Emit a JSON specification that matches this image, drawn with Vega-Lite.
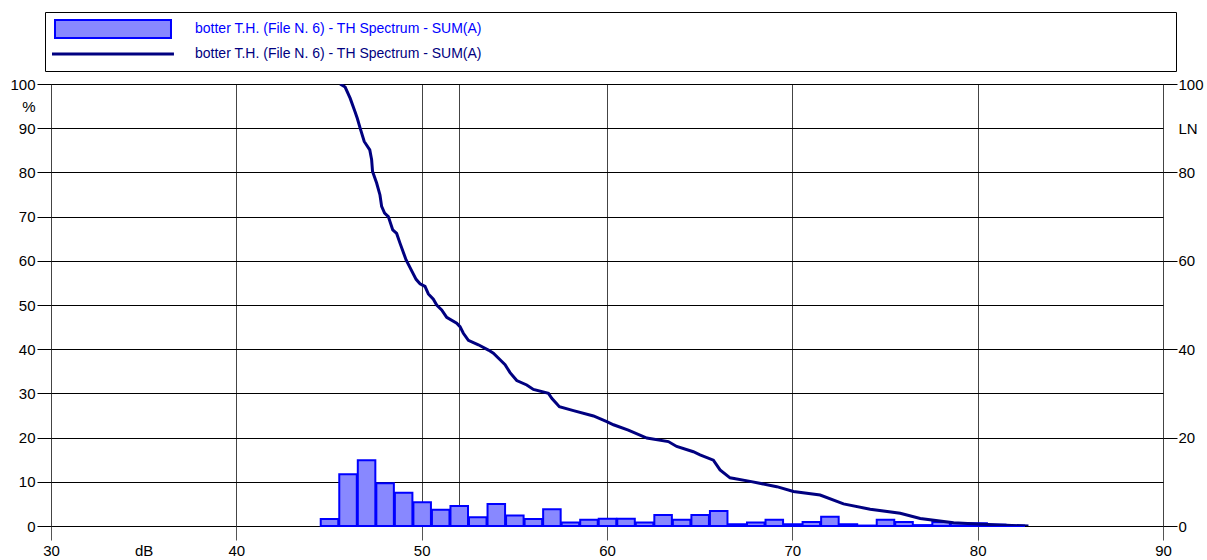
{
  "$schema": "https://vega.github.io/schema/vega-lite/v6.json",
  "width": 1112,
  "height": 442,
  "autosize": {"type": "none"},
  "padding": {"left": 51, "top": 84, "right": 44, "bottom": 34},
  "background": "white",
  "config": {
    "font": "Liberation Sans",
    "view": {"stroke": "black", "strokeWidth": 1},
    "axis": {"labelFont": "Liberation Sans", "labelFontSize": 15, "labelColor": "black", "domain": false, "tickColor": "black", "tickWidth": 1, "labelFlush": false, "labelOverlap": false, "title": null}
  },
  "datasets": {
    "bars": [
      {"bin_start": 44.5, "bin_end": 45.5, "percent": 1.6},
      {"bin_start": 45.5, "bin_end": 46.5, "percent": 11.7},
      {"bin_start": 46.5, "bin_end": 47.5, "percent": 14.9},
      {"bin_start": 47.5, "bin_end": 48.5, "percent": 9.7},
      {"bin_start": 48.5, "bin_end": 49.5, "percent": 7.5},
      {"bin_start": 49.5, "bin_end": 50.5, "percent": 5.4},
      {"bin_start": 50.5, "bin_end": 51.5, "percent": 3.7},
      {"bin_start": 51.5, "bin_end": 52.5, "percent": 4.5},
      {"bin_start": 52.5, "bin_end": 53.5, "percent": 2.0},
      {"bin_start": 53.5, "bin_end": 54.5, "percent": 5.0},
      {"bin_start": 54.5, "bin_end": 55.5, "percent": 2.4},
      {"bin_start": 55.5, "bin_end": 56.5, "percent": 1.6},
      {"bin_start": 56.5, "bin_end": 57.5, "percent": 3.8},
      {"bin_start": 57.5, "bin_end": 58.5, "percent": 0.8},
      {"bin_start": 58.5, "bin_end": 59.5, "percent": 1.4},
      {"bin_start": 59.5, "bin_end": 60.5, "percent": 1.65},
      {"bin_start": 60.5, "bin_end": 61.5, "percent": 1.65},
      {"bin_start": 61.5, "bin_end": 62.5, "percent": 0.8},
      {"bin_start": 62.5, "bin_end": 63.5, "percent": 2.5},
      {"bin_start": 63.5, "bin_end": 64.5, "percent": 1.4},
      {"bin_start": 64.5, "bin_end": 65.5, "percent": 2.5},
      {"bin_start": 65.5, "bin_end": 66.5, "percent": 3.4},
      {"bin_start": 66.5, "bin_end": 67.5, "percent": 0.4},
      {"bin_start": 67.5, "bin_end": 68.5, "percent": 0.8},
      {"bin_start": 68.5, "bin_end": 69.5, "percent": 1.4},
      {"bin_start": 69.5, "bin_end": 70.5, "percent": 0.4},
      {"bin_start": 70.5, "bin_end": 71.5, "percent": 0.9},
      {"bin_start": 71.5, "bin_end": 72.5, "percent": 2.1},
      {"bin_start": 72.5, "bin_end": 73.5, "percent": 0.4},
      {"bin_start": 73.5, "bin_end": 74.5, "percent": 0.1},
      {"bin_start": 74.5, "bin_end": 75.5, "percent": 1.4},
      {"bin_start": 75.5, "bin_end": 76.5, "percent": 0.9},
      {"bin_start": 76.5, "bin_end": 77.5, "percent": 0.2},
      {"bin_start": 77.5, "bin_end": 78.5, "percent": 0.9},
      {"bin_start": 78.5, "bin_end": 79.5, "percent": 0.6},
      {"bin_start": 79.5, "bin_end": 80.5, "percent": 0.6},
      {"bin_start": 80.5, "bin_end": 81.5, "percent": 0.3},
      {"bin_start": 81.5, "bin_end": 82.5, "percent": 0.1}
    ],
    "curve": [
      {"db": 45.6, "ln": 100},
      {"db": 45.87, "ln": 99.3},
      {"db": 46.14, "ln": 96.8},
      {"db": 46.4, "ln": 93.8},
      {"db": 46.53, "ln": 92.2},
      {"db": 46.68, "ln": 90.0},
      {"db": 46.9, "ln": 87.0},
      {"db": 47.2, "ln": 85.1},
      {"db": 47.3, "ln": 82.9},
      {"db": 47.35, "ln": 80.2},
      {"db": 47.57, "ln": 77.6},
      {"db": 47.75, "ln": 74.9},
      {"db": 47.84, "ln": 72.3},
      {"db": 48.0, "ln": 70.8},
      {"db": 48.2, "ln": 70.0},
      {"db": 48.44, "ln": 67.0},
      {"db": 48.65, "ln": 66.2},
      {"db": 48.83, "ln": 64.0},
      {"db": 49.16, "ln": 60.2},
      {"db": 49.7, "ln": 55.8},
      {"db": 49.91, "ln": 54.8},
      {"db": 50.18, "ln": 54.2},
      {"db": 50.36, "ln": 52.5},
      {"db": 50.63, "ln": 51.3},
      {"db": 50.81, "ln": 50.0},
      {"db": 51.08, "ln": 48.9},
      {"db": 51.35, "ln": 47.2},
      {"db": 51.89, "ln": 45.9},
      {"db": 52.07, "ln": 45.1},
      {"db": 52.25, "ln": 43.6},
      {"db": 52.52, "ln": 42.0},
      {"db": 53.06, "ln": 41.0},
      {"db": 53.6, "ln": 39.8},
      {"db": 53.87, "ln": 39.1},
      {"db": 54.23, "ln": 37.6},
      {"db": 54.5, "ln": 36.5},
      {"db": 54.77, "ln": 34.7},
      {"db": 55.13, "ln": 32.9},
      {"db": 55.67, "ln": 31.9},
      {"db": 56.03, "ln": 30.9},
      {"db": 56.84, "ln": 30.0},
      {"db": 57.02, "ln": 28.9},
      {"db": 57.43, "ln": 27.0},
      {"db": 58.19, "ln": 26.1},
      {"db": 59.27, "ln": 24.9},
      {"db": 59.99, "ln": 23.6},
      {"db": 60.35, "ln": 22.9},
      {"db": 61.15, "ln": 21.7},
      {"db": 62.15, "ln": 19.9},
      {"db": 63.31, "ln": 19.1},
      {"db": 63.76, "ln": 18.0},
      {"db": 64.66, "ln": 16.8},
      {"db": 65.02, "ln": 16.1},
      {"db": 65.74, "ln": 14.9},
      {"db": 66.1, "ln": 12.7},
      {"db": 66.64, "ln": 10.9},
      {"db": 67.72, "ln": 10.1},
      {"db": 69.16, "ln": 8.9},
      {"db": 70.06, "ln": 7.8},
      {"db": 71.5, "ln": 7.0},
      {"db": 72.76, "ln": 5.0},
      {"db": 74.2, "ln": 3.8},
      {"db": 75.82, "ln": 2.9},
      {"db": 76.9, "ln": 1.7},
      {"db": 78.7, "ln": 0.75},
      {"db": 79.96, "ln": 0.45},
      {"db": 81.2, "ln": 0.23},
      {"db": 82.74, "ln": 0.0}
    ]
  },
  "layer": [
    {
      "data": {"name": "bars"},
      "encoding": {
        "x": {
          "field": "bin_start",
          "type": "quantitative",
          "bin": {"binned": true, "step": 1},
          "scale": {"domain": [30, 90], "nice": false, "zero": false},
          "axis": {
            "values": [30, 35, 40, 50, 52, 60, 70, 80, 90],
            "labelExpr": "datum.value == 35 ? 'dB' : (datum.value == 52 ? '' : datum.label)",
            "format": "d",
            "tickSize": 14,
            "labelPadding": 3,
            "grid": true,
            "gridColor": "#444444",
            "gridOpacity": {"condition": {"test": "datum.value == 35", "value": 0}, "value": 1},
            "tickColor": "#555555",
            "tickOpacity": {"condition": {"test": "datum.value == 35 || datum.value == 52", "value": 0}, "value": 1}
          }
        },
        "x2": {"field": "bin_end"},
        "y": {
          "field": "percent",
          "type": "quantitative",
          "scale": {"domain": [0, 100], "nice": false},
          "axis": {
            "values": [0, 10, 20, 30, 40, 50, 60, 70, 80, 90, 95, 100],
            "labelExpr": "datum.value == 95 ? '%' : datum.label",
            "tickSize": 14,
            "labelPadding": 2,
            "grid": true,
            "gridColor": "black",
            "gridOpacity": {"condition": {"test": "datum.value == 95", "value": 0}, "value": 1},
            "tickOpacity": {"condition": {"test": "datum.value == 95", "value": 0}, "value": 1}
          }
        },
        "y2": {"datum": 0}
      },
      "layer": [
        {
          "mark": {"type": "bar", "orient": "vertical", "strokeWidth": 0},
          "encoding": {
            "color": {
              "datum": "bars",
              "type": "nominal",
              "scale": {"domain": ["bars", "line"], "range": ["#8888ff", "#000080"]},
              "legend": {
                "orient": "none",
                "legendX": -6,
                "legendY": -72,
                "title": null,
                "padding": 10,
                "rowPadding": 5,
                "strokeColor": "black",
                "fillColor": "white",
                "labelFont": "Liberation Sans",
                "labelFontSize": 14,
                "labelOffset": 126,
                "labelLimit": 2000,
                "symbolSize": 324,
                "symbolOpacity": 1,
                "symbolType": {"expr": "datum.value === 'bars' ? 'M-0.778,-1H12.11V1H-0.778Z' : 'M-1.111,0H12.44'"},
                "symbolStrokeColor": {"expr": "datum.value === 'bars' ? '#0000ff' : '#000080'"},
                "symbolStrokeWidth": {"expr": "datum.value === 'bars' ? 2 : 3"},
                "labelColor": {"expr": "datum.value === 'bars' ? '#0000ff' : '#000080'"},
                "labelExpr": "pad('botter T.H.  (File N. 6) - TH Spectrum - SUM(A)', 115, '\u2800')"
              }
            }
          }
        },
        {
          "mark": {"type": "bar", "orient": "vertical", "filled": false, "stroke": "#0000ff", "strokeWidth": 2}
        }
      ]
    },
    {
      "data": {"name": "curve"},
      "mark": {"type": "line", "strokeWidth": 3, "clip": true},
      "encoding": {
        "x": {"field": "db", "type": "quantitative"},
        "y": {
          "field": "ln",
          "type": "quantitative",
          "scale": {"domain": [0, 100], "nice": false},
          "axis": {
            "orient": "right",
            "values": [0, 20, 40, 60, 80, 90, 100],
            "labelExpr": "datum.value == 90 ? 'LN' : datum.label",
            "tickSize": 14,
            "labelPadding": 1,
            "grid": false,
            "tickOpacity": {"condition": {"test": "datum.value == 90", "value": 0}, "value": 1}
          }
        },
        "color": {"datum": "line", "type": "nominal", "legend": null}
      }
    }
  ],
  "resolve": {"scale": {"y": "independent"}, "legend": {"color": "independent"}}
}
